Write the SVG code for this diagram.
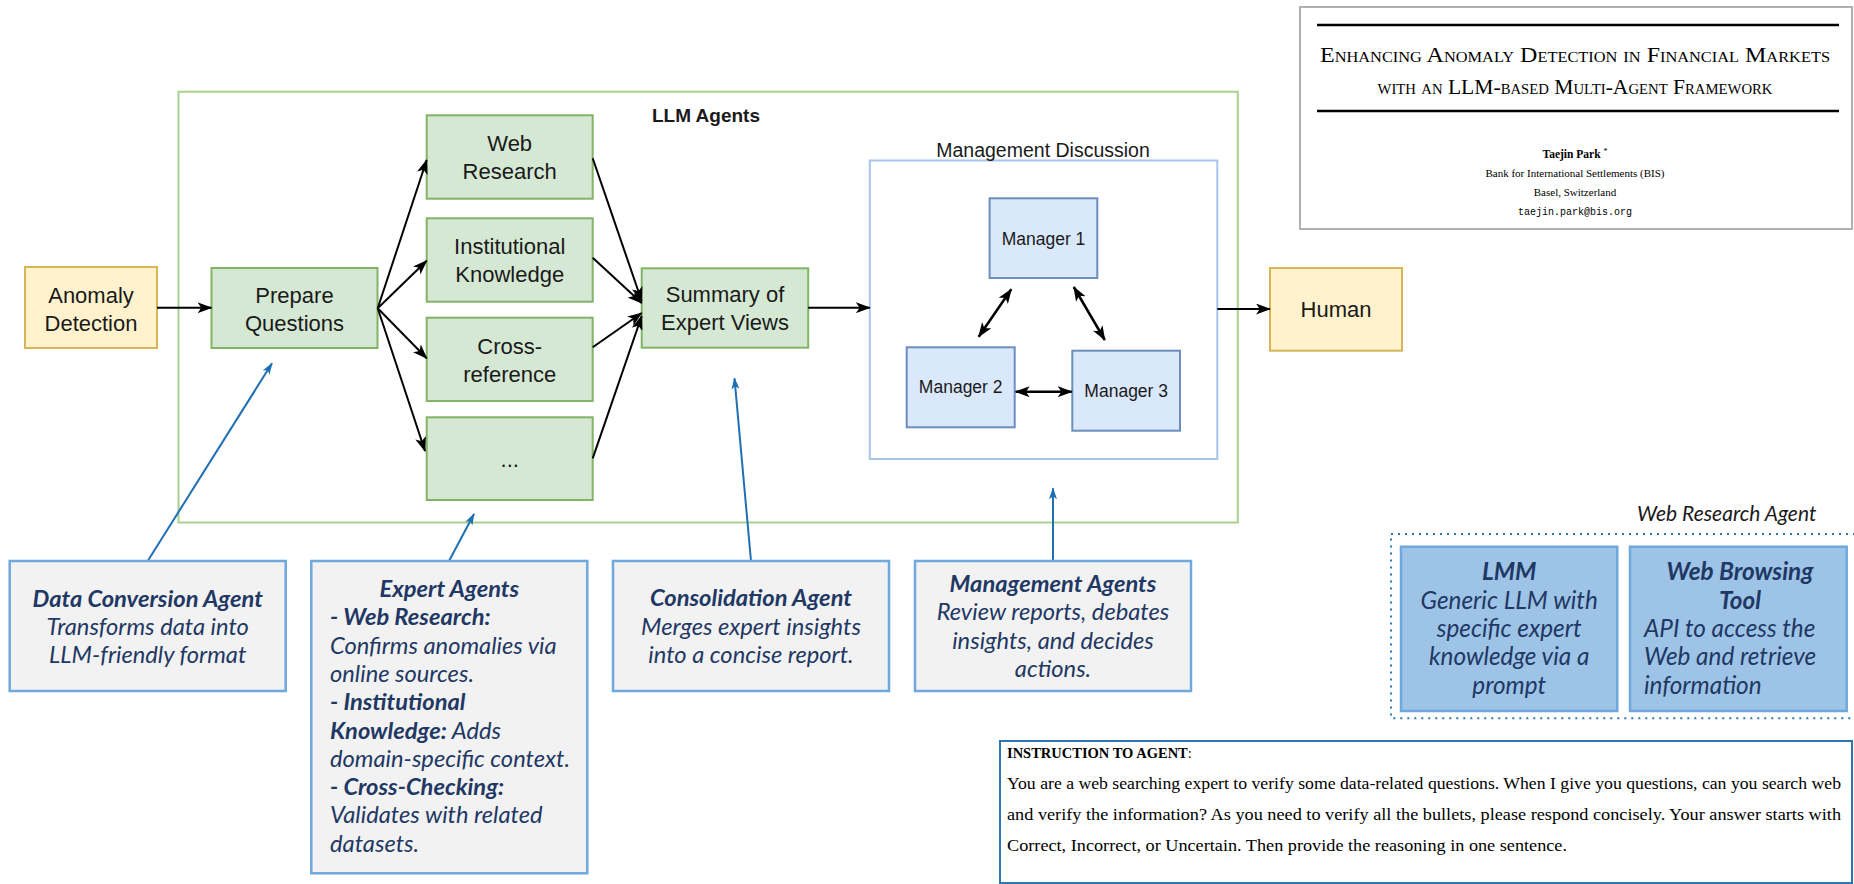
<svg xmlns="http://www.w3.org/2000/svg" width="1854" height="884" viewBox="0 0 1854 884">
  <style>
    .green { fill: #d5e8d4; stroke: #82b366; stroke-width: 2; }
    .yellow { fill: #fff2cc; stroke: #d6b656; stroke-width: 2; }
    .mgr { fill: #dae8fc; stroke: #6c8ebf; stroke-width: 2; }
    .note { fill: #f2f2f2; stroke: #6fa8dc; stroke-width: 2.5; }
    .tool { fill: #9dc3e6; stroke: #6fa8dc; stroke-width: 2.5; }
    .lbl { font-family: "Liberation Sans", Arial, sans-serif; font-size: 22px; fill: #1a1a1a; text-anchor: middle; }
    .mlbl { font-family: "Liberation Sans", Arial, sans-serif; font-size: 17.5px; fill: #1a1a1a; text-anchor: middle; }
    .nt { font-family: Lato, "Open Sans", sans-serif; font-size: 23.7px; font-style: italic; fill: #1f3864; }
    .tt { font-size: 24.3px; }
    .c { text-anchor: middle; }
    .b { font-weight: bold; }
    .flow { stroke: #000; stroke-width: 2; fill: none; }
    .dbl { stroke: #000; stroke-width: 2.5; fill: none; }
    .hint { stroke: #1f6fb2; stroke-width: 2; fill: none; }
    .serif { font-family: "Liberation Serif", "Times New Roman", serif; fill: #000; }
  </style>
  <defs>
    <marker id="ah" viewBox="0 0 15 11" refX="14" refY="5.5" markerWidth="15" markerHeight="11" markerUnits="userSpaceOnUse" orient="auto-start-reverse">
      <path d="M0,0 L15,5.5 L0,11 L3.8,5.5 z" fill="#000"/>
    </marker>
    <marker id="bh" viewBox="0 0 12 8" refX="11" refY="4" markerWidth="12" markerHeight="8" markerUnits="userSpaceOnUse" orient="auto">
      <path d="M0,0 L12,4 L0,8 L3,4 z" fill="#1f6fb2"/>
    </marker>
  </defs>

  <rect width="1854" height="884" fill="#fff"/>

  <!-- containers -->
  <g id="llm-agents">
    <rect x="178.5" y="91.7" width="1059.3" height="430.8" fill="#fff" stroke="#a9d08e" stroke-width="2"/>
    <text x="652" y="122" font-family="'Liberation Sans', Arial, sans-serif" font-size="19" font-weight="bold" fill="#1a1a1a">LLM Agents</text>
  </g>
  <g id="management-discussion">
    <rect x="869.8" y="160.5" width="347.5" height="298.5" fill="#fff" stroke="#a9c4eb" stroke-width="2"/>
    <text x="1043" y="156.5" class="lbl" style="font-size:19.5px">Management Discussion</text>
  </g>

  <!-- flow nodes -->
  <g id="anomaly-detection">
    <rect class="yellow" x="25" y="267" width="132" height="81"/>
    <text class="lbl" x="91" y="302.5">Anomaly</text>
    <text class="lbl" x="91" y="330.5">Detection</text>
  </g>
  <g id="prepare-questions">
    <rect class="green" x="211.5" y="268" width="166" height="80"/>
    <text class="lbl" x="294.5" y="302.5">Prepare</text>
    <text class="lbl" x="294.5" y="330.5">Questions</text>
  </g>
  <g id="web-research">
    <rect class="green" x="426.7" y="115.3" width="166" height="83.4"/>
    <text class="lbl" x="509.7" y="151">Web</text>
    <text class="lbl" x="509.7" y="179.4">Research</text>
  </g>
  <g id="institutional-knowledge">
    <rect class="green" x="426.7" y="218.3" width="166" height="83.4"/>
    <text class="lbl" x="509.7" y="254.4">Institutional</text>
    <text class="lbl" x="509.7" y="282">Knowledge</text>
  </g>
  <g id="cross-reference">
    <rect class="green" x="426.7" y="317.7" width="166" height="83.3"/>
    <text class="lbl" x="509.7" y="354.4">Cross-</text>
    <text class="lbl" x="509.7" y="381.7">reference</text>
  </g>
  <g id="more-experts">
    <rect class="green" x="426.7" y="417.3" width="166" height="82.7"/>
    <text class="lbl" x="509.7" y="467">...</text>
  </g>
  <g id="summary">
    <rect class="green" x="641.7" y="268.3" width="166.5" height="79.4"/>
    <text class="lbl" x="725" y="302">Summary of</text>
    <text class="lbl" x="725" y="330">Expert Views</text>
  </g>
  <g id="manager-1">
    <rect class="mgr" x="989.6" y="198.3" width="107.7" height="79.7"/>
    <text class="mlbl" x="1043.5" y="244.5">Manager 1</text>
  </g>
  <g id="manager-2">
    <rect class="mgr" x="906.7" y="347.3" width="108" height="80"/>
    <text class="mlbl" x="960.7" y="393">Manager 2</text>
  </g>
  <g id="manager-3">
    <rect class="mgr" x="1072.3" y="350.7" width="107.7" height="80"/>
    <text class="mlbl" x="1126.2" y="397.3">Manager 3</text>
  </g>
  <g id="human">
    <rect class="yellow" x="1270" y="268" width="132" height="82.7"/>
    <text class="lbl" x="1336" y="317">Human</text>
  </g>

  <!-- connectors -->
  <g id="connectors">
    <g class="flow" marker-end="url(#ah)">
      <line x1="157" y1="307.7" x2="211.5" y2="307.7"/>
      <line x1="377.7" y1="308.3" x2="426.7" y2="160"/>
      <line x1="377.7" y1="308.3" x2="426.7" y2="260.7"/>
      <line x1="377.7" y1="308.3" x2="426.7" y2="358.3"/>
      <line x1="377.7" y1="308.3" x2="425" y2="451"/>
      <line x1="592.7" y1="158.3" x2="641.7" y2="301"/>
      <line x1="592.7" y1="257.7" x2="641.7" y2="303"/>
      <line x1="592.7" y1="347.3" x2="641.7" y2="313"/>
      <line x1="592.7" y1="458.3" x2="641.7" y2="316"/>
      <line x1="808.2" y1="307.7" x2="869.8" y2="307.7"/>
      <line x1="1217.3" y1="309" x2="1270" y2="309"/>
    </g>
    <g class="dbl" marker-start="url(#ah)" marker-end="url(#ah)">
      <line x1="1011.3" y1="289.3" x2="978.7" y2="336.7"/>
      <line x1="1073.8" y1="287" x2="1104.8" y2="340"/>
      <line x1="1015.7" y1="391.7" x2="1071.7" y2="391.7"/>
    </g>
    <g class="hint" marker-end="url(#bh)">
      <line x1="147.7" y1="561" x2="272" y2="363.3"/>
      <line x1="449" y1="561" x2="474" y2="514"/>
      <line x1="751" y1="561" x2="734.5" y2="378.3"/>
      <line x1="1053" y1="561" x2="1053" y2="488.3"/>
    </g>
  </g>

  <!-- agent notes -->
  <g id="data-conversion-agent">
    <rect class="note" x="9.7" y="561" width="276" height="130"/>
    <text class="nt c b" x="147.7" y="606.5">Data Conversion Agent</text>
    <text class="nt c" x="147.7" y="634.8">Transforms data into</text>
    <text class="nt c" x="147.7" y="663.1">LLM-friendly format</text>
  </g>
  <g id="expert-agents">
    <rect class="note" x="311.3" y="561" width="276" height="312.3"/>
    <text class="nt c b" x="449.3" y="597">Expert Agents</text>
    <text class="nt b" x="330" y="625.3">- Web Research:</text>
    <text class="nt" x="330" y="653.6">Confirms anomalies via</text>
    <text class="nt" x="330" y="681.9">online sources.</text>
    <text class="nt b" x="330" y="710.2">- Institutional</text>
    <text class="nt" x="330" y="738.5"><tspan class="b">Knowledge:</tspan> Adds</text>
    <text class="nt" x="330" y="766.8">domain-specific context.</text>
    <text class="nt b" x="330" y="795.1">- Cross-Checking:</text>
    <text class="nt" x="330" y="823.4">Validates with related</text>
    <text class="nt" x="330" y="851.7">datasets.</text>
  </g>
  <g id="consolidation-agent">
    <rect class="note" x="613" y="561" width="276" height="130"/>
    <text class="nt c b" x="751" y="606.3">Consolidation Agent</text>
    <text class="nt c" x="751" y="634.6">Merges expert insights</text>
    <text class="nt c" x="751" y="662.9">into a concise report.</text>
  </g>
  <g id="management-agents">
    <rect class="note" x="915" y="561" width="276" height="130"/>
    <text class="nt c b" x="1053" y="592">Management Agents</text>
    <text class="nt c" x="1053" y="620.3">Review reports, debates</text>
    <text class="nt c" x="1053" y="648.6">insights, and decides</text>
    <text class="nt c" x="1053" y="676.9">actions.</text>
  </g>

  <!-- web research agent internals -->
  <g id="web-research-agent">
    <text class="nt c" x="1726.7" y="521" style="fill:#1a1a1a;font-size:21px">Web Research Agent</text>
    <rect x="1391" y="534" width="470" height="184.3" fill="none" stroke="#2e75b6" stroke-width="2" stroke-dasharray="2 5"/>
  </g>
  <g id="lmm">
    <rect class="tool" x="1401" y="546.7" width="216.3" height="164.3"/>
    <text class="nt tt c b" x="1509.2" y="580.3">LMM</text>
    <text class="nt tt c" x="1509.2" y="608.6">Generic LLM with</text>
    <text class="nt tt c" x="1509.2" y="636.9">specific expert</text>
    <text class="nt tt c" x="1509.2" y="665.2">knowledge via a</text>
    <text class="nt tt c" x="1509.2" y="693.5">prompt</text>
  </g>
  <g id="web-browsing-tool">
    <rect class="tool" x="1630" y="546.7" width="216.7" height="164.3"/>
    <text class="nt tt c b" x="1740" y="580.3">Web Browsing</text>
    <text class="nt tt c b" x="1740" y="608.6">Tool</text>
    <text class="nt tt" x="1644" y="636.9">API to access the</text>
    <text class="nt tt" x="1644" y="665.2">Web and retrieve</text>
    <text class="nt tt" x="1644" y="693.5">information</text>
  </g>

  <!-- paper header -->
  <g id="paper-title">
    <rect x="1300" y="7" width="552" height="222" fill="#fff" stroke="#b0b0b0" stroke-width="2"/>
    <line x1="1317" y1="25" x2="1839" y2="25" stroke="#000" stroke-width="2.5"/>
    <line x1="1317" y1="111" x2="1839" y2="111" stroke="#000" stroke-width="2.5"/>
    <text class="serif" x="1575" y="62" font-size="22" text-anchor="middle" font-variant="small-caps" textLength="510" lengthAdjust="spacingAndGlyphs">Enhancing Anomaly Detection in Financial Markets</text>
    <text class="serif" x="1575" y="94" font-size="22" text-anchor="middle" font-variant="small-caps" textLength="395" lengthAdjust="spacingAndGlyphs">with an LLM-based Multi-Agent Framework</text>
    <text class="serif" x="1575" y="158" font-size="11.5" font-weight="bold" text-anchor="middle">Taejin Park <tspan font-weight="normal" font-size="8" dy="-4">*</tspan></text>
    <text class="serif" x="1575" y="177" font-size="11" text-anchor="middle">Bank for International Settlements (BIS)</text>
    <text class="serif" x="1575" y="196" font-size="11" text-anchor="middle">Basel, Switzerland</text>
    <text x="1575" y="215" font-family="'Liberation Mono', 'Courier New', monospace" font-size="10" text-anchor="middle" fill="#000">taejin.park@bis.org</text>
  </g>

  <!-- prompt text -->
  <g id="instruction">
    <rect x="1000" y="741" width="852" height="142" fill="#fff" stroke="#2e75b6" stroke-width="2"/>
    <text class="serif" x="1007" y="757.5" font-size="14.5"><tspan font-weight="bold">INSTRUCTION TO AGENT</tspan>:</text>
    <text class="serif" x="1007" y="788.5" font-size="16.5" textLength="834" lengthAdjust="spacingAndGlyphs">You are a web searching expert to verify some data-related questions. When I give you questions, can you search web</text>
    <text class="serif" x="1007" y="820" font-size="16.5" textLength="834" lengthAdjust="spacingAndGlyphs">and verify the information? As you need to verify all the bullets, please respond concisely. Your answer starts with</text>
    <text class="serif" x="1007" y="850.5" font-size="16.5" textLength="560" lengthAdjust="spacingAndGlyphs">Correct, Incorrect, or Uncertain. Then provide the reasoning in one sentence.</text>
  </g>
</svg>
